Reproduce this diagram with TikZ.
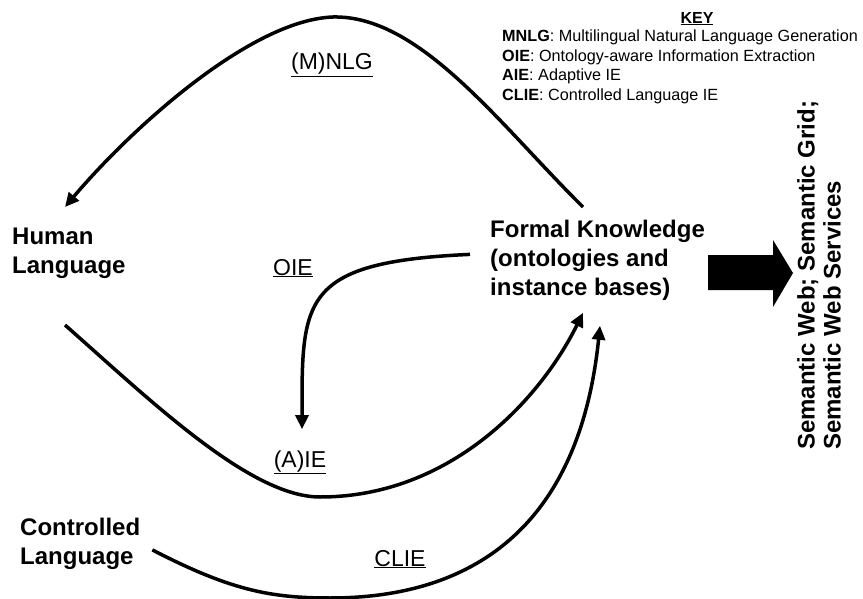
\documentclass[tikz,border=0pt]{standalone}
\usepackage{fontspec}
\setmainfont{Liberation Sans}
\usetikzlibrary{arrows.meta}

\begin{document}
\begin{tikzpicture}[x=1pt,y=-1pt,
  concept/.style={inner sep=0pt,anchor=north west,align=left,
                  font=\fontsize{24}{29}\selectfont\bfseries},
  lbl/.style={inner sep=0pt,anchor=base,font=\fontsize{23}{28}\selectfont},
  keytext/.style={inner sep=0pt,anchor=north west,align=left,
                  font=\fontsize{16.2}{19.5}\selectfont},
  arr/.style={-{Triangle[length=14pt,width=13pt]},line width=3.5pt},
  bigarr/.style={fill=black}
]
\useasboundingbox (0,0) rectangle (863,599);
% concepts
\node[concept] (hl) at (12,228)  {Human\\Language};
\node[concept] (fk) at (490,220) {Formal Knowledge\\(ontologies and\\instance bases)};
\node[concept] (cl) at (20,518)  {Controlled\\Language};
\node[concept,rotate=90,font=\fontsize{24}{26}\selectfont\bfseries] (sw) at (797,450)
  {Semantic Web; Semantic Grid;\\Semantic Web Services};
% process labels
\node[lbl] (nlg)  at (332,70)  {\underline{(M)NLG}};
\node[lbl] (oie)  at (293,275) {\underline{OIE}};
\node[lbl] (aie)  at (300,467) {\underline{(A)IE}};
\node[lbl] (clie) at (400,566) {\underline{CLIE}};
% key
\node[inner sep=0pt,anchor=north,font=\fontsize{16}{19.5}\selectfont\bfseries] (key) at (697,12) {\underline{KEY}};
\node[keytext] (keys) at (502,30) {\textbf{MNLG}: Multilingual Natural Language Generation\\
  \textbf{OIE}: Ontology-aware Information Extraction\\
  \textbf{AIE}: Adaptive IE\\
  \textbf{CLIE}: Controlled Language IE};
% connectors
\draw[arr] ([xshift=93pt,yshift=13pt]fk.north west) .. controls (500,125) and (420,15) .. (333,17)
  .. controls (250,20) and (130,130) .. ([xshift=53pt,yshift=21pt]hl.north west);
\draw[arr] ([xshift=53pt,yshift=-46pt]hl.south west) .. controls (150,400) and (250,497) .. (320,497)
  .. controls (450,497) and (540,400) .. ([xshift=93pt,yshift=-12pt]fk.south west);
\draw[arr] ([xshift=-20pt,yshift=6pt]fk.west) .. controls (300,262) and (302,300)
  .. ([xshift=2pt,yshift=21pt]aie.north);
\draw[arr] ([xshift=12pt,yshift=-6pt]cl.east) .. controls (230,590) and (270,598) .. (330,598)
  .. controls (480,598) and (580,520) .. ([xshift=110pt,yshift=-25pt]fk.south west);
% output arrow
\fill[bigarr] (708,255) -- (773,255) -- (773,240) -- (793,273) -- (773,307) -- (773,290) -- (708,290) -- cycle;
\end{tikzpicture}
\end{document}
